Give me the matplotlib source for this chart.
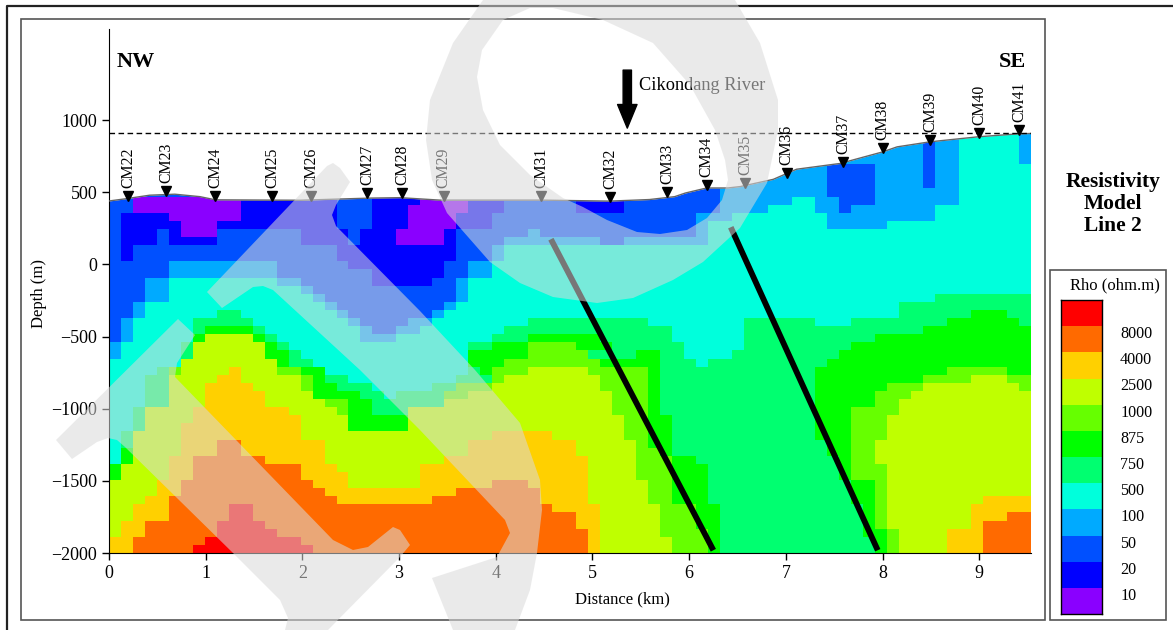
import numpy as np
import matplotlib
matplotlib.use('Agg')
import matplotlib.pyplot as plt
from matplotlib.colors import ListedColormap, BoundaryNorm
from matplotlib.patches import Polygon, Rectangle

plt.rcParams['font.family'] = ['Liberation Serif', 'DejaVu Serif']

W, H = 1173, 630

# resistivity classes, low to high
class_codes = 'abcdefghijkl'
class_colors = ['#8a00ff', '#0000ff', '#0050ff', '#00aaff', '#00ffdc', '#00ff70',
                '#00ff00', '#66ff00', '#bfff00', '#ffd000', '#ff6a00', '#ff0000']
rho_labels = ['10', '20', '50', '100', '500', '750', '875', '1000', '2500', '4000', '8000']

# model rows, top to bottom: class letter + column where the run ends
model_rows = [
    'd71 e76 d77',
    'd68 c69 d71 e76 d77',
    'd68 c69 d71 e76 d77',
    'd68 c69 d71 e76 d77',
    'd60 c64 d68 c69 d71 e77',
    'd60 c64 d68 c69 d71 e77',
    'd60 c64 d68 c69 d71 e77',
    'c51 d60 c64 d71 e77',
    'c2 a11 b19 c22 b26 a30 b33 c39 b43 c51 d57 e59 d61 c64 d71 e77',
    'c2 a11 b19 c22 b25 a30 b33 c39 b43 c51 d55 e59 d61 c62 d69 e77',
    'c1 b5 a11 b19 c22 b25 a29 b32 c49 d52 e60 d69 e77',
    'c1 b6 a9 b19 c22 b25 a29 b32 c49 d50 e60 d65 e77',
    'c1 b4 c5 b6 a9 c16 b20 c21 b24 a28 b29 c35 d36 c49 d50 e77',
    'c1 b4 c5 b9 c16 b20 c21 b24 a28 b29 c33 d41 c43 d50 e77',
    'c1 b2 c19 b29 c32 d33 e77',
    'c1 b2 c19 b29 c32 d33 e77',
    'c5 d14 c20 b28 c30 d32 e77',
    'c5 d14 c22 b28 c30 d32 e77',
    'c3 d5 e14 d16 c22 b27 c29 d30 e77',
    'c3 d5 e16 d17 c29 d30 e77',
    'c3 d5 e17 d18 c29 d30 e69 f77',
    'c2 d3 e18 d19 c28 d29 e66 f77',
    'c2 d3 e9 f11 e19 d20 c27 d28 e66 f72 g75 f77',
    'c1 d2 e7 f12 e20 d21 c25 d27 e35 f45 e53 f59 e62 f70 g76 f77',
    'c1 d2 e7 f8 g12 f13 e21 d22 c24 d26 e33 f47 e53 f68 g77',
    'c1 d2 e7 g8 i12 g13 f14 e21 d24 e32 f35 g41 f47 e53 f64 g77',
    'd1 e6 f7 i13 g14 f15 e30 f32 g35 h39 g42 f48 e53 f62 g77',
    'd1 e6 f7 i13 g15 f16 e30 g35 h40 f44 g46 f48 e52 f61 g77',
    'e6 i14 g15 f17 e30 g33 h41 g46 f49 e50 f60 g77',
    'e4 f5 h6 i10 j11 i14 h16 g18 e30 f31 g32 h35 i40 h45 g46 f59 g70 h75 g77',
    'e3 f5 i9 j11 i16 h17 g18 f20 e29 f32 h33 i41 h45 g46 f59 g68 h72 i75 h77',
    'e3 f5 i8 j12 i16 h17 g19 f22 e27 f29 h32 i41 h45 g46 f59 g65 h68 i76 h77',
    'e3 f5 i8 j13 i17 g21 f23 e24 f28 h30 i42 h45 g46 f59 g64 h67 i77',
    'e3 f5 i8 j13 i18 h20 g22 f28 i42 h45 g46 f59 g64 h66 i77',
    'e2 f3 i7 j15 i19 h20 g22 f25 i42 h45 g46 f59 g62 h66 i77',
    'e2 f3 i7 j16 i20 g25 i43 h45 g47 f59 g62 h65 i77',
    'e2 f3 i6 j16 i20 g25 i43 h45 g47 f59 g62 h65 i77',
    'e1 f2 i6 j16 i32 j37 i43 h45 g47 f59 g62 h65 i77',
    'e1 f2 i6 j9 k11 j18 i30 j39 i44 h45 g47 f60 g62 h64 i77',
    'e1 g2 i6 j9 k11 j18 i30 j39 i44 h46 g47 f60 g62 h64 i77',
    'e1 g2 i5 j7 k13 j18 i28 j40 i44 h47 g49 f61 g62 h64 i77',
    'g1 i5 j7 k16 j19 i26 j40 i44 h47 g50 f61 g62 h65 i77',
    'g1 i5 j7 k16 j20 i26 j40 i44 h47 g50 f61 g62 h65 i77',
    'i4 j6 k17 j20 i26 j32 k35 j40 i45 h47 g50 f62 g64 h65 i77',
    'i4 j6 k18 j29 k36 j40 i45 h47 g50 f62 g64 h65 i77',
    'i3 j5 k19 j27 k36 j40 i45 h47 g50 f62 g64 h65 i73 j77',
    'i2 j5 k10 l12 k37 j41 i46 h49 g51 f63 g64 h65 i72 j77',
    'i2 j5 k10 l12 k39 j41 i46 h49 g51 f63 g64 h65 i72 j75 k77',
    'i1 j3 k9 l13 k39 j41 i46 h49 g51 f63 g64 h65 i72 j73 k77',
    'i1 j3 k9 l14 k40 j41 i46 h50 g51 f63 g65 h66 i70 j73 k77',
    'j2 k8 l16 k40 j41 i47 h50 g51 f64 g65 h66 i70 j73 k77',
    'j2 k7 l17 k40 j41 i47 h50 g51 f64 g65 h66 i70 j73 k77',
]

# ground surface
terrain_x = [0, 0.17, 0.42, 0.68, 0.94, 1.10, 1.98, 2.70, 3.01, 3.42, 4.46, 5.18,
             5.59, 5.85, 5.96, 6.18, 6.40, 6.53, 6.87, 7.11, 7.56, 8.00, 8.15, 8.49,
             8.99, 9.40, 9.54]
terrain_z = [440, 455, 480, 487, 470, 448, 445, 460, 463, 446, 446, 439,
             450, 470, 495, 530, 530, 540, 590, 660, 700, 780, 815, 850,
             885, 905, 908]

station_names = ['CM22', 'CM23', 'CM24', 'CM25', 'CM26', 'CM27', 'CM28', 'CM29', 'CM31', 'CM32',
                 'CM33', 'CM34', 'CM35', 'CM36', 'CM37', 'CM38', 'CM39', 'CM40', 'CM41']
station_x = [0.20, 0.59, 1.10, 1.69, 2.09, 2.67, 3.03, 3.46, 4.47, 5.18,
             5.77, 6.18, 6.58, 7.01, 7.59, 8.00, 8.49, 9.00, 9.41]
station_z = [446, 480, 446, 446, 446, 467, 467, 446, 446, 439,
             473, 521, 535, 605, 682, 779, 834, 883, 904]

fault1_x, fault1_z = [4.57, 6.25], [175, -1981]
fault2_x, fault2_z = [6.43, 7.95], [258, -1981]

# watermark outlines, image pixels
wm_ring_outer = [(483, 0), (453, 43), (430, 100), (426, 140), (432, 180), (447, 213), (490, 262),
                 (520, 283), (553, 297), (597, 303), (633, 298), (673, 280), (703, 262), (740, 228),
                 (767, 183), (778, 130), (778, 100), (760, 43), (735, 0)]
wm_ring_hole = [(530, 8), (553, 8), (603, 20), (653, 43), (690, 85), (715, 130), (725, 160), (728, 180),
                (722, 200), (707, 218), (687, 230), (660, 234), (637, 232), (607, 220), (583, 207),
                (563, 198), (530, 175), (500, 145), (483, 110), (477, 77), (482, 50), (503, 20)]
wm_band_low = [(178, 319), (195, 335), (177, 363), (175, 377), (333, 540), (353, 550), (368, 547),
               (393, 527), (400, 530), (410, 545), (400, 557), (328, 630), (285, 630), (288, 618),
               (280, 600), (233, 553), (125, 447), (117, 440), (108, 438), (97, 442), (72, 459), (56, 440)]
wm_band_up = [(327, 166), (333, 163), (340, 168), (350, 182), (336, 205), (332, 215), (336, 226),
              (420, 311), (475, 370), (520, 423), (540, 480), (542, 510), (537, 553), (530, 590),
              (515, 630), (453, 630), (432, 578), (497, 557), (510, 533), (505, 520), (420, 430),
              (360, 370), (273, 290), (263, 286), (253, 287), (222, 308), (207, 292)]

col_edges = np.linspace(0, 9.535, 78)
row_edges = np.linspace(920, -2000, len(model_rows) + 1)

grid = np.zeros((len(model_rows), 77), dtype=int)
for r, row in enumerate(model_rows):
    start = 0
    for run in row.split():
        end = int(run[1:])
        grid[r, start:end] = class_codes.index(run[0])
        start = end

cmap = ListedColormap(class_colors)
norm = BoundaryNorm(np.arange(-0.5, 12.5), 12)

fig = plt.figure(figsize=(W / 100, H / 100), dpi=100, facecolor='white')


def px_axes(left, top, right, bottom, **kw):
    return fig.add_axes([left / W, 1 - bottom / H, (right - left) / W, (bottom - top) / H], **kw)


# frame lines and free text live in a pixel sized axes behind the plot
bg = px_axes(0, 0, W, H, zorder=0)
bg.set_xlim(0, W)
bg.set_ylim(H, 0)
bg.axis('off')
bg.plot([7, 7, W], [H, 6, 6], color='#222222', lw=1.6)
bg.add_patch(Rectangle((21, 19), 1024, 601, fill=False, ec='#555555', lw=1.2))
bg.add_patch(Rectangle((1050, 270), 116, 350, fill=False, ec='#555555', lw=1.2))
bg.text(1113, 204, 'Resistivity\nModel\nLine 2', fontsize=15.5, fontweight='bold', ha='center', va='center',
        linespacing=1.12)
bg.text(1115, 285, 'Rho (ohm.m)', fontsize=12, ha='center', va='center')
bg.text(622, 599, 'Distance (km)', fontsize=12, ha='center', va='center')
bg.text(39, 293, 'Depth (m)', fontsize=12, rotation=90, ha='center', va='center')

# main section
ax = px_axes(109, 29, 1031, 553, zorder=1)
ax.patch.set_alpha(0)
ax.pcolormesh(col_edges, row_edges, grid, cmap=cmap, norm=norm, rasterized=True)
ax.fill_between(terrain_x, terrain_z, 1700, color='white', lw=0, zorder=2)
ax.plot(terrain_x, terrain_z, color='#666666', lw=1, zorder=3)
ax.plot([0, 9.535], [908, 908], color='black', lw=1, dashes=(4, 2.5), zorder=3)
ax.plot(fault1_x, fault1_z, color='black', lw=4.2, solid_capstyle='butt', zorder=4)
ax.plot(fault2_x, fault2_z, color='black', lw=4.2, solid_capstyle='butt', zorder=4)

ax.plot(station_x, np.array(station_z) + 30, 'v', color='black', ms=6.5, zorder=5, clip_on=False)
for name, sx, sz in zip(station_names, station_x, station_z):
    ax.annotate(name, (sx, sz), xytext=(0, 9), textcoords='offset points', rotation=90,
                ha='center', va='bottom', fontsize=11.3, zorder=6)

ax.annotate('', xy=(5.36, 945), xytext=(5.36, 1347),
            arrowprops=dict(facecolor='black', edgecolor='black', width=6, headwidth=14, headlength=17, shrink=0))
ax.text(5.48, 1243, 'Cikondang River', fontsize=13.2, va='center', ha='left')
ax.text(0.08, 1400, 'NW', fontsize=16, fontweight='bold', va='center', ha='left')
ax.text(9.48, 1400, 'SE', fontsize=16, fontweight='bold', va='center', ha='right')

ax.set_xlim(0, 9.535)
ax.set_ylim(-2000, 1632)
ax.set_xticks(range(10))
ax.set_yticks(range(-2000, 1001, 500))
ax.tick_params(labelsize=13, length=5, width=1)
ax.tick_params(axis='x', pad=4)
ax.spines['top'].set_visible(False)
ax.spines['right'].set_visible(False)

# colour scale
cb = px_axes(1061, 300, 1102, 614, zorder=1)
cb.pcolormesh([0, 1], np.arange(13), np.arange(12).reshape(-1, 1), cmap=cmap, norm=norm)
cb.set_xticks([])
cb.set_yticks(range(1, 12))
cb.set_yticklabels(rho_labels, fontsize=11.6)
cb.yaxis.tick_right()
cb.tick_params(axis='y', length=0, pad=13)
for lab in cb.get_yticklabels():
    lab.set_va('top')
for s in cb.spines.values():
    s.set_linewidth(1)

# watermark over everything
wm = px_axes(0, 0, W, H, zorder=10)
wm.set_xlim(0, W)
wm.set_ylim(H, 0)
wm.axis('off')
ring = np.array(wm_ring_outer + wm_ring_outer[:1] + wm_ring_hole + wm_ring_hole[:1] + wm_ring_outer[:1])
wm.add_patch(Polygon(ring, closed=True, fc='#dadada', ec='none', alpha=0.55))
wm.add_patch(Polygon(wm_band_low, closed=True, fc='#dadada', ec='none', alpha=0.55))
wm.add_patch(Polygon(wm_band_up, closed=True, fc='#dadada', ec='none', alpha=0.55))

fig.savefig('out.png', dpi=100)
